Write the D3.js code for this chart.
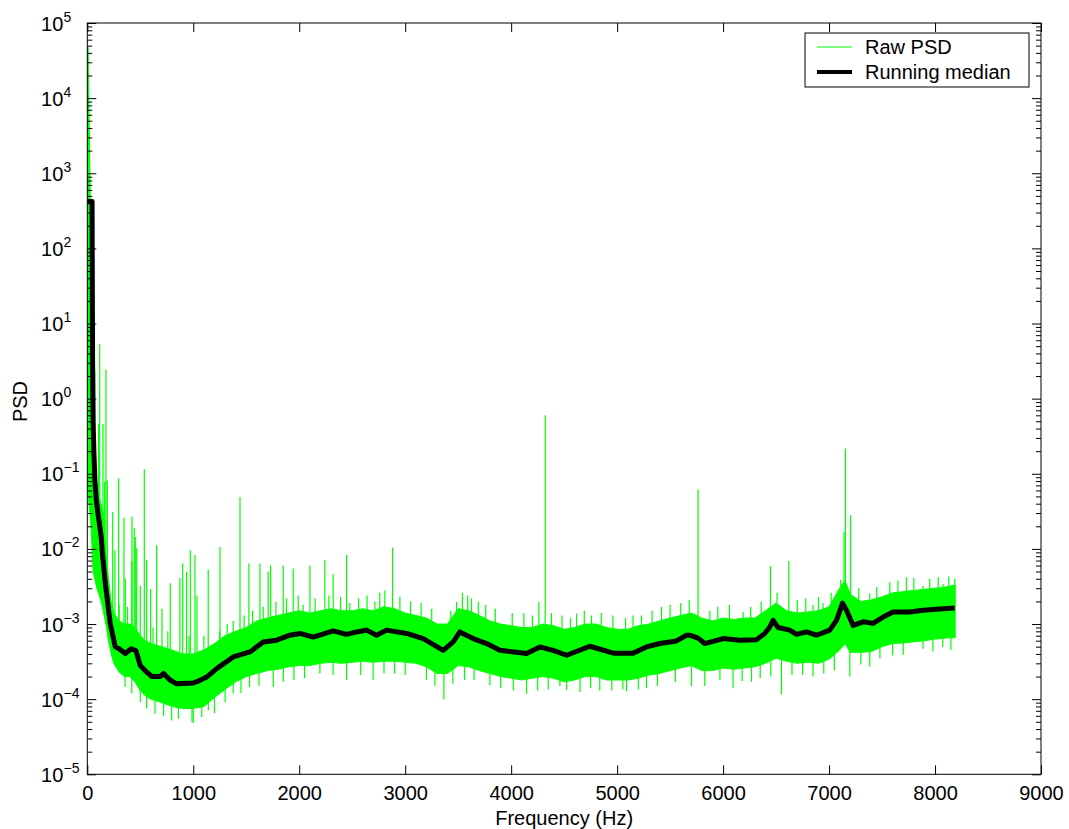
<!DOCTYPE html>
<html lang="en">
<head>
  <meta charset="UTF-8" />
  <title>PSD</title>
  <style>
    body { margin: 0; background: #fff; }
    svg { display: block; }
    text { font-family: "Liberation Sans", Arial, Helvetica, sans-serif; fill: #000; }
    .tick line { stroke: #000; }
  </style>
</head>
<body>
  <svg width="1069" height="829"></svg>
  <script src="https://d3js.org/d3.v7.min.js"></script>
  <script>
    // running median [freq, psd]
    const median = [
      [0, 420], [45, 420], [47, 50], [50, 3], [55, 0.5], [62, 0.2], [72, 0.08], [85, 0.045],
      [100, 0.03], [130, 0.015], [145, 0.008], [170, 0.0035], [217, 0.001], [264, 5e-4],
      [300, 4.7e-4], [359, 4.05e-4], [415, 4.7e-4], [460, 4.4e-4], [500, 2.8e-4], [560, 2.3e-4],
      [610, 2e-4], [688, 2e-4], [720, 2.2e-4], [780, 1.8e-4], [843, 1.6e-4], [1000, 1.64e-4],
      [1051, 1.75e-4], [1126, 1.97e-4], [1221, 2.55e-4], [1377, 3.65e-4], [1535, 4.25e-4],
      [1660, 5.78e-4], [1787, 6.1e-4], [1912, 7.1e-4], [2007, 7.5e-4], [2132, 6.7e-4],
      [2321, 8.1e-4], [2447, 7.3e-4], [2541, 7.85e-4], [2636, 8.3e-4], [2730, 7.1e-4],
      [2824, 8.3e-4], [3013, 7.5e-4], [3170, 6.4e-4], [3359, 4.47e-4], [3453, 5.78e-4],
      [3516, 7.85e-4], [3641, 6.4e-4], [3768, 5.5e-4], [3893, 4.47e-4], [4145, 4.05e-4],
      [4271, 4.96e-4], [4396, 4.47e-4], [4523, 3.84e-4], [4743, 5.06e-4], [4963, 4.1e-4],
      [5151, 4.1e-4], [5277, 4.96e-4], [5403, 5.5e-4], [5560, 5.96e-4], [5655, 7.1e-4],
      [5686, 7.1e-4], [5764, 6.5e-4], [5827, 5.5e-4], [6000, 6.4e-4], [6157, 6.1e-4],
      [6315, 6.2e-4], [6393, 7.5e-4], [6440, 9.1e-4], [6472, 1.12e-3], [6519, 8.98e-4],
      [6629, 8.3e-4], [6692, 7.3e-4], [6787, 7.85e-4], [6881, 7.1e-4], [7007, 8.3e-4],
      [7070, 1.12e-3], [7127, 1.9e-3], [7164, 1.53e-3], [7227, 9.6e-4], [7321, 1.07e-3],
      [7415, 1.02e-3], [7510, 1.24e-3], [7604, 1.45e-3], [7761, 1.45e-3], [7887, 1.53e-3],
      [8076, 1.6e-3], [8186, 1.64e-3]
    ];

    // raw PSD dense band: [freq, upper, lower]
    const rawBand = [
      [0, 4.8e4, 0.05], [8, 4.8e4, 0.05], [25, 1e3, 0.03], [35, 50, 0.02], [45, 2, 0.01],
      [55, 0.3, 5e-3], [70, 0.1, 4e-3], [90, 0.06, 3e-3], [110, 0.05, 2.5e-3], [130, 0.04, 2e-3],
      [150, 0.03, 1.5e-3], [175, 0.01, 1e-3], [200, 4e-3, 6e-4], [225, 2e-3, 4e-4],
      [250, 1.4e-3, 3e-4], [300, 1.1e-3, 2.3e-4], [350, 1e-3, 2e-4], [400, 1e-3, 2e-4],
      [450, 9e-4, 1.7e-4], [500, 7e-4, 1.3e-4], [550, 6e-4, 1.1e-4], [600, 5.5e-4, 1e-4],
      [700, 5e-4, 9e-5], [800, 4.5e-4, 8e-5], [900, 4e-4, 7.5e-5], [1000, 4e-4, 7.5e-5],
      [1100, 4.5e-4, 8e-5], [1200, 5.5e-4, 1.05e-4], [1300, 7e-4, 1.35e-4], [1400, 8e-4, 1.7e-4],
      [1500, 9e-4, 2e-4], [1600, 1.1e-3, 2.2e-4], [1700, 1.2e-3, 2.4e-4], [1800, 1.3e-3, 2.5e-4],
      [1900, 1.4e-3, 2.7e-4], [2000, 1.5e-3, 2.8e-4], [2100, 1.4e-3, 2.8e-4], [2200, 1.5e-3, 3e-4],
      [2300, 1.6e-3, 3.1e-4], [2400, 1.5e-3, 3e-4], [2500, 1.5e-3, 3.1e-4], [2600, 1.6e-3, 3.2e-4],
      [2700, 1.5e-3, 3.1e-4], [2800, 1.7e-3, 3.2e-4], [2900, 1.6e-3, 3.2e-4], [3000, 1.4e-3, 3.1e-4],
      [3100, 1.3e-3, 3e-4], [3200, 1.2e-3, 2.7e-4], [3300, 1e-3, 2.2e-4], [3400, 1e-3, 2.2e-4],
      [3500, 1.6e-3, 2.8e-4], [3600, 1.5e-3, 2.7e-4], [3700, 1.3e-3, 2.4e-4], [3800, 1.1e-3, 2.2e-4],
      [3900, 1e-3, 2e-4], [4000, 9.5e-4, 1.9e-4], [4100, 9e-4, 1.8e-4], [4200, 9e-4, 1.9e-4],
      [4300, 1e-3, 2e-4], [4400, 9.5e-4, 1.9e-4], [4500, 8.5e-4, 1.7e-4], [4600, 9e-4, 1.8e-4],
      [4700, 1e-3, 2e-4], [4800, 1e-3, 2e-4], [4900, 9e-4, 1.8e-4], [5000, 8.5e-4, 1.8e-4],
      [5100, 8.5e-4, 1.8e-4], [5200, 9.5e-4, 1.9e-4], [5300, 1e-3, 2.1e-4], [5400, 1.1e-3, 2.2e-4],
      [5500, 1.2e-3, 2.4e-4], [5600, 1.3e-3, 2.6e-4], [5700, 1.4e-3, 2.8e-4], [5800, 1.2e-3, 2.4e-4],
      [5900, 1.1e-3, 2.4e-4], [6000, 1.2e-3, 2.6e-4], [6100, 1.15e-3, 2.5e-4], [6200, 1.2e-3, 2.6e-4],
      [6300, 1.2e-3, 2.7e-4], [6400, 1.5e-3, 3e-4], [6500, 1.9e-3, 3.5e-4], [6600, 1.5e-3, 3.2e-4],
      [6700, 1.4e-3, 3e-4], [6800, 1.45e-3, 3.1e-4], [6900, 1.5e-3, 3e-4], [7000, 1.7e-3, 3.4e-4],
      [7100, 3e-3, 4.5e-4], [7150, 3.8e-3, 5.5e-4], [7200, 2.5e-3, 4.2e-4], [7300, 2e-3, 4.2e-4],
      [7400, 2.1e-3, 4.3e-4], [7500, 2.3e-3, 5e-4], [7600, 2.6e-3, 5.5e-4], [7700, 2.7e-3, 5.6e-4],
      [7800, 2.8e-3, 5.8e-4], [7900, 2.9e-3, 6e-4], [8000, 3e-3, 6.3e-4], [8100, 3.1e-3, 6.5e-4],
      [8190, 3.3e-3, 6.6e-4]
    ];

    // raw PSD peaks sticking out above the band: [freq, peak]
    const rawPeaks = [
      [70, 2.4], [101, 0.079], [107, 0.46], [117, 5.3], [148, 0.46], [164, 0.079], [176, 2.45],
      [189, 0.082], [240, 0.031], [261, 9.6e-3], [296, 0.087], [300, 1.8e-3], [346, 0.026], [359, 4e-3],
      [380, 1.7e-3], [419, 6.8e-3], [422, 0.027], [443, 0.019], [453, 0.0144], [466, 0.0102], [500, 3.2e-3],
      [538, 0.115], [560, 7.2e-3], [598, 2.9e-3], [620, 9e-4], [654, 0.0112], [705, 1.6e-3], [760, 8e-4],
      [783, 3.5e-3], [874, 4.1e-3], [900, 6.4e-3], [937, 4.95e-3], [960, 7e-4], [972, 9.6e-3],
      [1016, 8.3e-3], [1035, 2.4e-3], [1100, 7e-4], [1141, 5.3e-3], [1250, 8e-4], [1252, 0.0106],
      [1320, 1e-3], [1377, 1.1e-3], [1441, 0.049], [1480, 1.3e-3], [1525, 6.4e-3], [1560, 1.5e-3],
      [1629, 6.4e-3], [1660, 1.7e-3], [1707, 5e-3], [1730, 6e-3], [1780, 2e-3], [1849, 6e-3],
      [1880, 2.2e-3], [1943, 5.5e-3], [1990, 2.4e-3], [2037, 1.8e-3], [2101, 6e-3], [2150, 2.2e-3],
      [2242, 7.1e-3], [2280, 2.4e-3], [2320, 4.6e-3], [2390, 2.3e-3], [2447, 8.3e-3], [2478, 1.9e-3],
      [2560, 2.2e-3], [2640, 2.4e-3], [2714, 2e-3], [2760, 2.6e-3], [2808, 2.8e-3], [2881, 0.0104],
      [2950, 2.3e-3], [3050, 2e-3], [3150, 1.9e-3], [3250, 1.6e-3], [3430, 1.5e-3], [3485, 1.97e-3],
      [3540, 2.6e-3], [3590, 2.4e-3], [3626, 2.2e-3], [3690, 2e-3], [3760, 1.8e-3], [3850, 1.6e-3],
      [4010, 1.4e-3], [4120, 1.4e-3], [4200, 1.3e-3], [4261, 1.97e-3], [4321, 0.6], [4380, 1.4e-3],
      [4480, 1.3e-3], [4560, 1.2e-3], [4617, 1.38e-3], [4690, 1.5e-3], [4758, 1.3e-3], [4850, 1.4e-3],
      [4960, 1.3e-3], [5080, 1.2e-3], [5150, 1.3e-3], [5230, 1.3e-3], [5330, 1.5e-3], [5419, 1.7e-3],
      [5500, 1.8e-3], [5600, 1.9e-3], [5680, 2.1e-3], [5764, 0.062], [5875, 1.5e-3], [5950, 1.7e-3],
      [6060, 1.8e-3], [6189, 1.45e-3], [6260, 1.7e-3], [6360, 2e-3], [6447, 5.9e-3], [6509, 2.6e-3],
      [6620, 6.9e-3], [6700, 2.1e-3], [6780, 2.2e-3], [6849, 1.8e-3], [6900, 2.3e-3], [6943, 1.9e-3],
      [7020, 2.6e-3], [7110, 3.9e-3], [7141, 0.0168], [7154, 0.217], [7204, 0.028], [7280, 3e-3],
      [7384, 2.55e-3], [7450, 3.1e-3], [7573, 3.6e-3], [7650, 3.8e-3], [7730, 4.2e-3], [7800, 4.1e-3],
      [7887, 3.2e-3], [7950, 4e-3], [8030, 4.2e-3], [8076, 3.4e-3], [8130, 4.3e-3], [8186, 4e-3]
    ];

    // raw PSD dips below the band: [freq, low]
    const rawDips = [
      [356, 1.45e-4], [420, 1.2e-4], [500, 9.2e-5], [560, 7.5e-5], [639, 6.4e-5], [720, 6e-5],
      [796, 5.2e-5], [860, 5.5e-5], [988, 5e-5], [1000, 4.8e-5], [1080, 5.8e-5], [1142, 7.1e-5],
      [1200, 6.5e-5], [1300, 9e-5], [1377, 1.19e-4], [1450, 1.2e-4], [1531, 1.45e-4], [1620, 1.5e-4],
      [1755, 1.45e-4], [1850, 1.7e-4], [1950, 1.8e-4], [2050, 1.9e-4], [2195, 2.2e-4], [2320, 2.1e-4],
      [2447, 1.8e-4], [2580, 2.1e-4], [2697, 1.8e-4], [2800, 2.2e-4], [2900, 2.2e-4], [3000, 2.1e-4],
      [3200, 1.8e-4], [3280, 1.5e-4], [3365, 9.9e-5], [3450, 1.6e-4], [3560, 1.8e-4], [3650, 1.8e-4],
      [3799, 1.53e-4], [3900, 1.4e-4], [4020, 1.3e-4], [4145, 1.18e-4], [4250, 1.3e-4], [4350, 1.35e-4],
      [4460, 1.5e-4], [4523, 1.33e-4], [4650, 1.25e-4], [4750, 1.4e-4], [4836, 1.3e-4], [4950, 1.3e-4],
      [5054, 1.35e-4], [5089, 1.27e-4], [5200, 1.35e-4], [5277, 1.4e-4], [5380, 1.5e-4], [5550, 1.7e-4],
      [5702, 1.5e-4], [5827, 1.5e-4], [5970, 1.8e-4], [6094, 1.4e-4], [6180, 1.75e-4], [6268, 1.7e-4],
      [6350, 1.9e-4], [6450, 2e-4], [6551, 1.16e-4], [6650, 2.1e-4], [6750, 2.1e-4], [6849, 2e-4],
      [6950, 2.2e-4], [7050, 2.4e-4], [7196, 2e-4], [7300, 2.9e-4], [7384, 2.7e-4], [7480, 3.5e-4],
      [7600, 3.8e-4], [7700, 3.9e-4], [7887, 4.7e-4], [7980, 4.3e-4], [8073, 4.9e-4], [8150, 4.5e-4]
    ];

    const xTicks = d3.range(0, 9001, 1000);
    const yDecades = d3.range(-5, 6);

    const svg = d3.select("svg");
    const mLeft = 87.3, mRight = 1041, mTop = 23, mBottom = 774.3;

    const x = d3.scaleLinear().domain([0, 9000]).range([mLeft, mRight]);
    const y = d3.scaleLog().domain([1e-5, 1e5]).range([mBottom, mTop]);

    svg.append("rect").attr("width", 1069).attr("height", 829).attr("fill", "#fff");

    svg.append("clipPath").attr("id", "plot")
      .append("rect")
      .attr("x", mLeft).attr("y", mTop)
      .attr("width", mRight - mLeft).attr("height", mBottom - mTop);

    const plot = svg.append("g").attr("clip-path", "url(#plot)");

    // median as a function of freq, used only as the foot of peak/dip strokes
    const medianAt = d3.scaleLinear()
      .domain(median.map(d => d[0]))
      .range(median.map(d => Math.log10(d[1])));

    const green = "#00ff00";

    plot.append("path")
      .datum(rawBand)
      .attr("fill", green)
      .attr("stroke", green)
      .attr("stroke-width", 1)
      .attr("d", d3.area().x(d => x(d[0])).y0(d => y(d[2])).y1(d => y(d[1])));

    plot.append("g").selectAll("line")
      .data(rawPeaks.concat(rawDips)).enter().append("line")
      .attr("x1", d => x(d[0])).attr("x2", d => x(d[0]))
      .attr("y1", d => y(Math.pow(10, medianAt(d[0]))))
      .attr("y2", d => y(d[1]))
      .attr("stroke", green)
      .attr("stroke-width", 1.2);

    plot.append("path")
      .datum(median)
      .attr("fill", "none")
      .attr("stroke", "#000")
      .attr("stroke-width", 5)
      .attr("stroke-linejoin", "round")
      .attr("d", d3.line().x(d => x(d[0])).y(d => y(d[1])));

    // axes, ticks pointing inward
    const majorY = yDecades.map(e => Math.pow(10, e));
    const minorY = [];
    yDecades.slice(0, -1).forEach(e => {
      for (let k = 2; k <= 9; k++) minorY.push(k * Math.pow(10, e));
    });

    const axB = svg.append("g").attr("transform", `translate(0,${mBottom})`)
      .call(d3.axisBottom(x).tickValues(xTicks).tickSize(-9).tickPadding(12).tickFormat(d3.format("d")));
    axB.selectAll("text").attr("font-size", 20);

    svg.append("g").attr("transform", `translate(0,${mTop})`)
      .call(d3.axisTop(x).tickValues(xTicks).tickSize(-9).tickFormat(""));

    [[mLeft, d3.axisLeft], [mRight, d3.axisRight]].forEach(([px, ax]) => {
      svg.append("g").attr("transform", `translate(${px},0)`)
        .call(ax(y).tickValues(majorY).tickSize(-9).tickFormat(""));
      svg.append("g").attr("transform", `translate(${px},0)`)
        .call(ax(y).tickValues(minorY).tickSize(-5).tickFormat(""));
    });
    svg.selectAll(".domain").remove();
    svg.selectAll("g[font-family]").attr("font-family", null);

    svg.append("rect")
      .attr("x", mLeft).attr("y", mTop)
      .attr("width", mRight - mLeft).attr("height", mBottom - mTop)
      .attr("fill", "none").attr("stroke", "#000").attr("stroke-width", 1);

    // y tick labels 10^n
    const yLab = svg.append("g");
    yDecades.forEach(e => {
      const ty = y(Math.pow(10, e));
      yLab.append("text")
        .attr("x", 63.3).attr("y", ty + 7.5)
        .attr("text-anchor", "end").attr("font-size", 20)
        .text("10");
      yLab.append("text")
        .attr("x", 63.6).attr("y", ty - 1.5)
        .attr("font-size", 14)
        .text(e < 0 ? "\u2212" + Math.abs(e) : String(e));
    });

    svg.append("text")
      .attr("x", (mLeft + mRight) / 2).attr("y", 824.5)
      .attr("text-anchor", "middle").attr("font-size", 20)
      .text("Frequency (Hz)");

    svg.append("text")
      .attr("transform", "translate(27,401.5) rotate(-90)")
      .attr("text-anchor", "middle").attr("font-size", 20)
      .text("PSD");

    // legend
    const lg = svg.append("g");
    lg.append("rect")
      .attr("x", 805).attr("y", 33).attr("width", 224).attr("height", 54)
      .attr("fill", "#fff").attr("stroke", "#000").attr("stroke-width", 1);
    const items = [
      { label: "Raw PSD", color: green, w: 1, y: 47 },
      { label: "Running median", color: "#000", w: 4, y: 72 }
    ];
    items.forEach(it => {
      lg.append("line")
        .attr("x1", 817).attr("x2", 852).attr("y1", it.y).attr("y2", it.y)
        .attr("stroke", it.color).attr("stroke-width", it.w);
      lg.append("text")
        .attr("x", 865).attr("y", it.y + 7)
        .attr("font-size", 20)
        .text(it.label);
    });
  </script>
</body>
</html>
